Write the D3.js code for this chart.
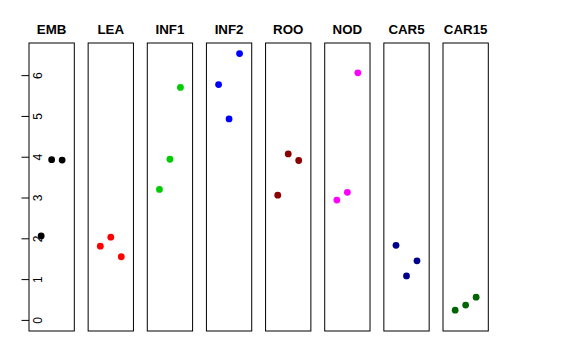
<!DOCTYPE html>
<html>
<head>
<meta charset="utf-8">
<title>Tissue strip chart</title>
<script src="https://d3js.org/d3.v7.min.js"></script>
<style>
  body { margin: 0; background: #fff; }
  text { font-family: "Liberation Sans", Arial, sans-serif; }
</style>
</head>
<body>
<div id="container"></div>
<script>
var width = 576, height = 360;

// data
var tissues = ["EMB", "LEA", "INF1", "INF2", "ROO", "NOD", "CAR5", "CAR15"];
var colors = ["#000000", "#FF0000", "#00CD00", "#0000FF", "#8B0000", "#FF00FF", "#00008B", "#006400"];
var replicate = [1, 2, 3];
var values = [
  [2.07, 3.94, 3.93],
  [1.82, 2.04, 1.56],
  [3.21, 3.95, 5.71],
  [5.78, 4.94, 6.54],
  [3.07, 4.08, 3.92],
  [2.95, 3.14, 6.07],
  [1.84, 1.09, 1.46],
  [0.25, 0.375, 0.57]
];
var yTicks = [0, 1, 2, 3, 4, 5, 6];

var svg = d3.select("#container").append("svg")
    .attr("width", width).attr("height", height);

var panel = d3.scaleBand().domain(tissues).range([29, 488.3])
    .paddingInner(0.234).paddingOuter(0);

var y = d3.scaleLinear().domain([-0.26, 6.80]).range([331, 43]);

var x = d3.scaleLinear().domain([-0.16, 4.16]).range([0, panel.bandwidth()]);

// y axis on the first panel
var yAxis = svg.append("g").attr("transform", "translate(" + panel(tissues[0]) + ",0)");
yAxis.selectAll("line.tick").data(yTicks).enter().append("line")
    .attr("x1", -7.5).attr("x2", 0)
    .attr("y1", function(d) { return y(d); })
    .attr("y2", function(d) { return y(d); })
    .attr("stroke", "#000").attr("stroke-width", 1);
yAxis.selectAll("text").data(yTicks).enter().append("text")
    .attr("transform", function(d) { return "translate(12.5," + y(d) + ") rotate(-90)"; })
    .attr("text-anchor", "middle")
    .attr("font-size", 12)
    .attr("fill", "#000")
    .text(function(d) { return d; });

tissues.forEach(function(t, i) {
  var g = svg.append("g").attr("transform", "translate(" + panel(t) + ",0)");

  g.append("rect")
      .attr("x", 0).attr("y", y.range()[1])
      .attr("width", panel.bandwidth())
      .attr("height", y.range()[0] - y.range()[1])
      .attr("fill", "none").attr("stroke", "#000").attr("stroke-width", 1);

  g.append("text")
      .attr("x", panel.bandwidth() / 2).attr("y", 34)
      .attr("text-anchor", "middle")
      .attr("font-size", 13.3).attr("font-weight", "bold")
      .text(t);

  g.selectAll("circle").data(values[i]).enter().append("circle")
      .attr("cx", function(d, j) { return x(replicate[j]); })
      .attr("cy", function(d) { return y(d); })
      .attr("r", 3.4)
      .attr("fill", colors[i]);
});
</script>
</body>
</html>
